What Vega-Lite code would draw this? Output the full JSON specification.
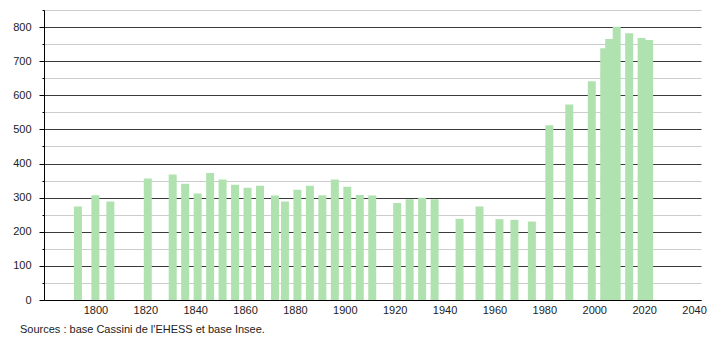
{
  "$schema": "https://vega.github.io/schema/vega-lite/v6.json",
  "width": 657,
  "height": 290,
  "autosize": "none",
  "padding": {"left": 44, "top": 10, "right": 9, "bottom": 40},
  "background": "white",
  "config": {
    "view": {"stroke": null},
    "font": "Liberation Sans",
    "axis": {"labelFont": "Liberation Sans", "labelFontSize": 11, "labelColor": "#222"}
  },
  "title": {
    "text": "Sources : base Cassini de l'EHESS et base Insee.",
    "orient": "bottom",
    "anchor": "start",
    "frame": "group",
    "dx": -24,
    "offset": 9,
    "font": "Liberation Sans",
    "fontSize": 11,
    "fontWeight": "normal",
    "color": "#222"
  },
  "data": {
    "values": [
      {"year": 1793, "pop": 274},
      {"year": 1800, "pop": 307},
      {"year": 1806, "pop": 289},
      {"year": 1821, "pop": 356},
      {"year": 1831, "pop": 368},
      {"year": 1836, "pop": 341},
      {"year": 1841, "pop": 312},
      {"year": 1846, "pop": 372},
      {"year": 1851, "pop": 353},
      {"year": 1856, "pop": 338},
      {"year": 1861, "pop": 329},
      {"year": 1866, "pop": 335},
      {"year": 1872, "pop": 306},
      {"year": 1876, "pop": 289},
      {"year": 1881, "pop": 323},
      {"year": 1886, "pop": 335},
      {"year": 1891, "pop": 307},
      {"year": 1896, "pop": 353},
      {"year": 1901, "pop": 332},
      {"year": 1906, "pop": 308},
      {"year": 1911, "pop": 306},
      {"year": 1921, "pop": 284},
      {"year": 1926, "pop": 295},
      {"year": 1931, "pop": 300},
      {"year": 1936, "pop": 295},
      {"year": 1946, "pop": 238},
      {"year": 1954, "pop": 274},
      {"year": 1962, "pop": 237},
      {"year": 1968, "pop": 235},
      {"year": 1975, "pop": 230},
      {"year": 1982, "pop": 512},
      {"year": 1990, "pop": 573},
      {"year": 1999, "pop": 641},
      {"year": 2004, "pop": 738},
      {"year": 2006, "pop": 765},
      {"year": 2009, "pop": 801},
      {"year": 2014, "pop": 782},
      {"year": 2019, "pop": 768},
      {"year": 2022, "pop": 762}
    ]
  },
  "mark": {"type": "bar", "size": 8, "color": "#b0e2b0"},
  "encoding": {
    "x": {
      "field": "year",
      "type": "quantitative",
      "scale": {"domain": [1779.4, 2042.8], "nice": false, "zero": false, "padding": 0},
      "axis": {
        "title": null,
        "values": [1800, 1820, 1840, 1860, 1880, 1900, 1920, 1940, 1960, 1980, 2000, 2020, 2040],
        "format": "d",
        "ticks": false,
        "grid": false,
        "domainColor": "#000",
        "domainWidth": 1,
        "labelPadding": 4,
        "zindex": 1
      }
    },
    "y": {
      "field": "pop",
      "type": "quantitative",
      "scale": {"domain": [0, 850], "nice": false},
      "axis": {
        "title": null,
        "values": [0, 50, 100, 150, 200, 250, 300, 350, 400, 450, 500, 550, 600, 650, 700, 750, 800, 850],
        "labelExpr": "datum.value % 100 === 0 ? datum.label : ''",
        "domainColor": "#000",
        "tickColor": "#000",
        "tickSize": {"condition": {"test": "datum.value % 100 === 0", "value": 5}, "value": 2},
        "labelPadding": 8,
        "gridColor": {"condition": {"test": "datum.value % 100 === 0", "value": "#3a3a3a"}, "value": "#cccccc"},
        "gridOpacity": 1,
        "gridWidth": 1
      }
    }
  }
}
